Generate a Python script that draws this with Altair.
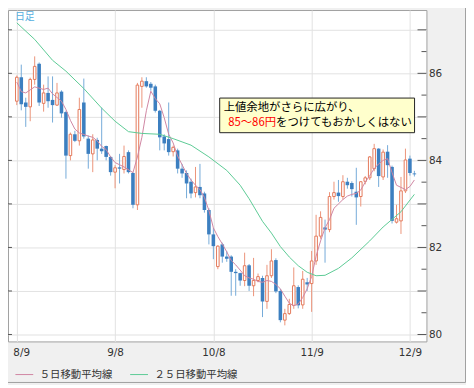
import altair as alt
import pandas as pd

# ---------------- data ----------------
IDX_TICKS = [0, 22, 44, 66, 88]
DATE_LABELS = ["8/9", "9/8", "10/8", "11/9", "12/9"]

OPEN = [85.36, 85.91, 85.33, 85.23, 85.86, 86.22, 85.31, 85.55, 85.39, 85.27,
        85.58, 85.11, 84.11, 84.60, 84.45, 85.33, 84.50, 84.15, 84.47, 84.27,
        84.33, 84.08, 83.73, 83.84, 83.79, 84.19, 83.71, 82.98, 85.70, 85.82,
        85.76, 85.70, 85.14, 84.55, 84.49, 84.20, 84.23, 83.81, 83.71, 83.51,
        83.26, 83.39, 83.24, 82.86, 82.30, 81.56, 82.07, 81.79, 81.79, 81.44,
        81.41, 81.24, 81.59, 81.12, 81.24, 81.30, 80.76, 81.35, 81.71, 81.00,
        80.33, 80.48, 80.67, 81.09, 80.68, 81.20, 81.17, 81.69, 82.26, 82.46,
        82.41, 83.17, 83.26, 83.17, 83.51, 83.48, 83.28, 83.17, 83.52, 83.60,
        83.81, 84.27, 83.62, 84.20, 83.85, 82.58, 82.61, 83.30, 84.04, 83.70]
HIGH = [85.95, 86.20, 85.44, 85.90, 86.39, 86.25, 85.74, 85.93, 85.93, 85.78,
        85.61, 85.14, 84.64, 84.68, 85.44, 85.88, 84.57, 84.60, 84.52, 85.21,
        84.34, 84.10, 83.89, 84.15, 84.34, 84.23, 83.73, 85.78, 85.91, 85.91,
        85.80, 85.74, 85.16, 84.60, 85.33, 84.34, 84.27, 83.92, 83.77, 83.58,
        83.85, 83.92, 83.28, 82.90, 82.45, 82.05, 82.11, 81.92, 81.82, 81.50,
        81.42, 81.88, 81.62, 81.76, 81.40, 81.35, 81.60, 81.96, 81.75, 81.05,
        80.59, 80.82, 81.54, 81.13, 81.46, 81.30, 81.92, 82.75, 82.83, 82.64,
        83.27, 83.51, 83.55, 83.66, 83.60, 83.52, 83.83, 83.52, 83.64, 84.10,
        84.38, 84.28, 84.25, 84.35, 83.88, 82.98, 83.62, 84.27, 84.11, 83.76]
LOW = [85.27, 85.15, 84.77, 84.90, 85.74, 85.25, 85.12, 85.21, 84.87, 85.25,
       84.98, 83.58, 84.00, 84.42, 84.34, 84.50, 83.81, 83.73, 84.00, 84.15,
       84.00, 83.65, 83.36, 83.47, 83.70, 83.70, 82.90, 82.86, 85.21, 85.67,
       85.60, 85.10, 84.23, 84.23, 84.11, 84.09, 83.70, 83.60, 83.13, 83.13,
       83.15, 83.13, 82.80, 82.07, 81.73, 81.50, 81.65, 81.67, 80.89, 80.89,
       81.12, 81.11, 81.00, 80.88, 81.20, 80.40, 80.59, 81.30, 80.95, 80.28,
       80.21, 80.45, 80.59, 80.60, 80.59, 81.00, 80.52, 81.60, 82.20, 81.65,
       82.35, 83.10, 83.05, 83.10, 83.35, 83.17, 82.52, 82.94, 83.45, 83.55,
       83.75, 83.39, 83.55, 83.60, 82.55, 82.55, 82.31, 83.25, 83.65, 83.63]
CLOSE = [85.91, 85.29, 85.23, 85.86, 86.16, 85.33, 85.55, 85.36, 85.27, 85.55,
         85.08, 84.11, 84.60, 84.45, 85.17, 84.55, 84.15, 84.47, 84.27, 84.21,
         84.08, 83.73, 83.83, 83.81, 84.09, 83.73, 82.98, 85.73, 85.82, 85.70,
         85.67, 85.14, 84.53, 84.39, 84.19, 84.30, 83.81, 83.70, 83.47, 83.24,
         83.39, 83.20, 82.86, 82.30, 82.03, 82.03, 81.79, 81.74, 81.44, 81.41,
         81.24, 81.58, 81.12, 81.24, 81.33, 80.76, 81.35, 81.69, 80.99, 80.33,
         80.48, 80.69, 81.12, 80.67, 81.27, 81.15, 81.69, 82.26, 82.69, 82.41,
         83.17, 83.26, 83.18, 83.51, 83.43, 83.34, 83.15, 83.51, 83.60, 84.08,
         84.27, 83.64, 84.19, 83.89, 82.61, 82.66, 83.30, 84.01, 83.71, 83.68]

MA5_IDX = [0, 1, 2, 3, 4, 6, 7, 8, 10, 11, 12, 13, 14, 16, 17, 18, 19, 20, 21, 22,
           24, 26, 27, 28, 29, 30, 31, 32, 33, 34, 35, 36, 37, 38, 39, 40, 41, 42,
           43, 44, 45, 46, 47, 48, 49, 50, 51, 52, 53, 54, 55, 56, 57, 58, 59, 60,
           61, 62, 63, 64, 65, 66, 67, 68, 69, 70, 71, 72, 73, 74, 75, 76, 77, 78,
           79, 80, 81, 82, 83, 84, 85, 86, 87, 88, 89]
MA5_VAL = [85.80, 85.58, 85.55, 85.62, 85.69, 85.63, 85.66, 85.53, 85.36, 85.17,
           84.92, 84.72, 84.63, 84.56, 84.53, 84.45, 84.32, 84.25, 84.08, 83.95,
           83.85, 83.72, 84.08, 84.53, 85.14, 85.59, 85.42, 85.30, 84.98, 84.60,
           84.40, 84.10, 83.90, 83.70, 83.55, 83.43, 83.33, 83.15, 82.85, 82.45,
           82.25, 82.08, 81.90, 81.70, 81.60, 81.48, 81.35, 81.30, 81.27, 81.22,
           81.20, 81.24, 81.22, 81.15, 81.05, 80.88, 80.72, 80.66, 80.70, 80.85,
           81.05, 81.33, 81.80, 82.15, 82.45, 82.64, 82.90, 83.00, 83.10, 83.18,
           83.22, 83.24, 83.32, 83.50, 83.65, 83.81, 83.92, 84.00, 84.04, 83.72,
           83.43, 83.38, 83.33, 83.40, 83.55]

MA25_IDX = [0, 4, 8, 11, 15, 19, 22, 25, 28, 32, 35, 39, 43, 47, 50, 52, 55, 57,
            59, 61, 63, 65, 67, 69, 72, 75, 79, 82, 86, 89]
MA25_VAL = [87.16, 86.78, 86.30, 86.05, 85.65, 85.20, 84.90, 84.66, 84.62, 84.60,
            84.50, 84.35, 84.08, 83.77, 83.43, 83.12, 82.60, 82.33, 82.02, 81.78,
            81.58, 81.43, 81.35, 81.36, 81.52, 81.76, 82.15, 82.47, 82.82, 83.22]

MA_NAMES = ["５日移動平均線", "２５日移動平均線"]

Y_GRID = [80, 81, 82, 83, 84, 85, 86, 87]
Y_MINOR = [80.5, 81.5, 82.5, 83.5, 84.5, 85.5, 86.5]
Y_LABELS = [80, 82, 84, 86]

NOTE_LINE1 = "上値余地がさらに広がり、"
NOTE_RED = "85～86円"
NOTE_REST = "をつけてもおかしくはない"
PERIOD_LABEL = "日足"

# ---------------- styling ----------------
RED = "#e4795b"
RED_WICK = "#ec9479"
BLUE = "#3c7fc0"
BLUE_WICK = "#74aad9"
PINK = "#cf86a2"
GREEN = "#5cca95"
GRID = "#e2e2e2"
FRAME = "#a0a0a0"
JP = "Noto Sans CJK JP"
LAT = "DejaVu Sans"

W, H = 423, 335
X_DOMAIN = [-0.865, 90.59]
Y_DOMAIN = [79.841, 87.4545]

candles = pd.DataFrame({"i": list(range(len(OPEN))), "open": OPEN, "high": HIGH,
                        "low": LOW, "close": CLOSE})
ma = pd.DataFrame({
    "i": MA5_IDX + MA25_IDX,
    "v": MA5_VAL + MA25_VAL,
    "s": [MA_NAMES[0]] * len(MA5_IDX) + [MA_NAMES[1]] * len(MA25_IDX),
})

xs = alt.Scale(domain=X_DOMAIN, nice=False, zero=False)
ys = alt.Scale(domain=Y_DOMAIN, nice=False, zero=False)

x_label_expr = ("[" + ",".join(f"'{d}'" for d in DATE_LABELS) + "][indexof(["
                + ",".join(str(v) for v in IDX_TICKS) + "], datum.value)]")
x_axis = alt.Axis(values=IDX_TICKS, labelExpr=x_label_expr, grid=True, gridColor=GRID,
                  ticks=False, domain=False, labelPadding=6, labelFont=LAT,
                  labelFontSize=10.5, labelColor="#333333", title=None, labelFlush=False,
                  labelAlign={"condition": {"test": "datum.value == 0", "value": "left"},
                              "value": "center"},
                  labelOffset={"condition": {"test": "datum.value == 0", "value": -4},
                               "value": 0})
y_axis = alt.Axis(orient="right", values=Y_GRID,
                  labelExpr="indexof([" + ",".join(str(v) for v in Y_LABELS)
                  + "], datum.value) >= 0 ? datum.label : ''",
                  grid=True, gridColor=GRID, ticks=False, domain=False, labelPadding=2,
                  labelFont=LAT, labelFontSize=10.5, labelColor="#333333", title=None,
                  labelBaseline="middle")


def X(f):
    return alt.X(f + ":Q", scale=xs, axis=x_axis)


def Y(f):
    return alt.Y(f + ":Q", scale=ys, axis=y_axis)


major = alt.Chart(pd.DataFrame({"y": Y_GRID}))
minor = alt.Chart(pd.DataFrame({"y": Y_MINOR}))
left_major = major.mark_rule(color="#555555").encode(y=Y("y"), x=alt.value(0), x2=alt.value(4))
right_major = major.mark_rule(color="#555555").encode(y=Y("y"), x=alt.value(414), x2=alt.value(423))
right_minor = minor.mark_rule(color="#555555").encode(y=Y("y"), x=alt.value(418), x2=alt.value(423))

base = alt.Chart(candles)
wick_up = base.transform_filter("datum.close >= datum.open").mark_rule(
    color=RED_WICK, strokeWidth=1).encode(x=X("i"), y=Y("low"), y2="high:Q")
wick_dn = base.transform_filter("datum.close < datum.open").mark_rule(
    color=BLUE_WICK, strokeWidth=1).encode(x=X("i"), y=Y("low"), y2="high:Q")
body_up = base.transform_filter("datum.close >= datum.open").mark_bar(
    size=2.6, fill="white", stroke=RED, strokeWidth=1).encode(x=X("i"), y=Y("open"), y2="close:Q")
body_dn = base.transform_filter("datum.close < datum.open").mark_bar(
    size=3.6, fill=BLUE, strokeWidth=0).encode(x=X("i"), y=Y("open"), y2="close:Q")

lines = alt.Chart(ma).mark_line(strokeWidth=1).encode(
    x=X("i"), y=Y("v"),
    color=alt.Color("s:N", scale=alt.Scale(domain=MA_NAMES, range=[PINK, GREEN]),
                    legend=alt.Legend(title=None, orient="none", legendX=7, legendY=359,
                                      direction="horizontal", symbolType="stroke",
                                      symbolSize=324, symbolStrokeWidth=1, labelFont=JP,
                                      labelFontSize=10.5, labelColor="#333333",
                                      labelOffset=6, columnPadding=15, padding=0)),
)

one = pd.DataFrame({"k": [0]})
box = alt.Chart(one).mark_rect(fill="#ffffcc", stroke="#222222", strokeWidth=1).encode(
    x=alt.value(214), x2=alt.value(411), y=alt.value(89), y2=alt.value(124))
note1 = alt.Chart(pd.DataFrame({"t": [NOTE_LINE1]})).mark_text(
    align="left", baseline="middle", font=JP, fontSize=11.5, color="#000000").encode(
    text="t:N", x=alt.value(218), y=alt.value(99))
note2 = alt.Chart(pd.DataFrame({"t": [NOTE_RED]})).mark_text(
    align="right", baseline="middle", font=JP, fontSize=11.5, color="#ff0000").encode(
    text="t:N", x=alt.value(271), y=alt.value(114))
note3 = alt.Chart(pd.DataFrame({"t": [NOTE_REST]})).mark_text(
    align="left", baseline="middle", font=JP, fontSize=11.5, color="#000000").encode(
    text="t:N", x=alt.value(271), y=alt.value(114))
period = alt.Chart(pd.DataFrame({"t": [PERIOD_LABEL]})).mark_text(
    align="left", baseline="middle", font=JP, fontSize=10, color="#55aee0").encode(
    text="t:N", x=alt.value(7), y=alt.value(7))
frame = alt.Chart(one).mark_rect(fillOpacity=0, stroke=FRAME, strokeWidth=1).encode(
    x=alt.value(-10), x2=alt.value(462.5), y=alt.value(-10), y2=alt.value(376.5))

chart = alt.layer(
    left_major, right_major, right_minor,
    wick_up, wick_dn, body_up, body_dn, lines,
    box, note1, note2, note3, period, frame,
).properties(
    width=W, height=H,
    autosize=alt.AutoSizeParams(type="none"),
    padding={"left": 0, "top": 0, "right": 40, "bottom": 42},
    background="#f0f0f0",
).configure_view(stroke=FRAME, strokeWidth=1, fill="white")

chart.save("out.html", embed_options={"renderer": "svg", "actions": False})
